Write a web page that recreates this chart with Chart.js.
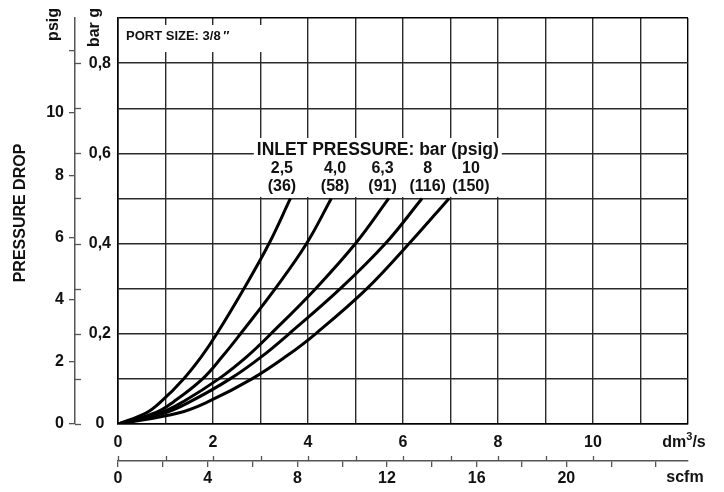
<!DOCTYPE html>
<html>
<head>
<meta charset="utf-8">
<title>Pressure drop - port size 3/8</title>
<script src="https://cdn.jsdelivr.net/npm/chart.js@4.4.1/dist/chart.umd.min.js"></script>
<style>
  html, body { margin: 0; padding: 0; background: #fff; }
  #wrap { width: 724px; height: 492px; position: relative; }
</style>
</head>
<body>
<div id="wrap"><canvas id="chart"></canvas></div>
<script>
/* ---- data ---- */
// pressure drop levels (bar) where the flow of each curve was read
const dropBar = [0, 0.025, 0.05, 0.1, 0.15, 0.2, 0.3, 0.4, 0.5];

// flow in dm3/s for each inlet pressure curve, at the drops above
const flow25 = [0, 0.60, 0.91, 1.38, 1.76, 2.08, 2.65, 3.18, 3.63];
const flow40 = [0, 0.79, 1.18, 1.78, 2.20, 2.58, 3.31, 3.97, 4.49];
const flow63 = [0, 0.90, 1.38, 2.12, 2.72, 3.22, 4.16, 5.00, 5.70];
const flow80 = [0, 1.00, 1.53, 2.36, 3.03, 3.60, 4.68, 5.63, 6.40];
const flow100 = [0, 1.29, 1.91, 2.82, 3.54, 4.16, 5.24, 6.13, 6.97];

const inletBar = ['2,5', '4,0', '6,3', '8', '10'];
const inletPsig = ['(36)', '(58)', '(91)', '(116)', '(150)'];

const BAR_TO_PSI = 14.5038;
const DM3S_TO_SCFM = 2.11888;

const FONT = "'Liberation Sans', Arial, Helvetica, sans-serif";
const GRID = '#2a2a2a';
const AXIS = '#555';

Chart.defaults.font.family = FONT;
Chart.defaults.font.size = 16;
Chart.defaults.font.weight = 'bold';
Chart.defaults.color = '#111';

const flows = [flow25, flow40, flow63, flow80, flow100];

const datasets = flows.map((f, i) => ({
  label: inletBar[i] + ' bar',
  data: f.map((q, k) => ({ x: q, y: dropBar[k] })),
  borderColor: '#000',
  borderWidth: 3,
  pointRadius: 0,
  fill: false,
  tension: 0.4
}));

function line(ctx, x1, y1, x2, y2) {
  ctx.beginPath();
  ctx.moveTo(x1, y1);
  ctx.lineTo(x2, y2);
  ctx.stroke();
}

// extra ticks, titles and the two boxed notes
const annotate = {
  id: 'annotate',
  afterDraw(chart) {
    const { ctx, chartArea: a, scales: { x, y, x2, y2 } } = chart;
    ctx.save();

    // bar ticks on the right side of the psig line
    ctx.strokeStyle = AXIS;
    ctx.lineWidth = 1.3;
    for (let k = 0; k <= 8; k++) {
      const py = Math.round(y.getPixelForValue(k / 10)) + 0.5;
      line(ctx, y2.right, py, y2.right + 6, py);
    }
    // dm3/s ticks pointing up from the scfm line
    for (let k = 0; k <= 10; k++) {
      const px = Math.round(x.getPixelForValue(k)) + 0.5;
      line(ctx, px, x2.top - 5, px, x2.top);
    }

    // white boxes behind the notes
    ctx.fillStyle = '#fff';
    ctx.fillRect(a.left + 2, a.top + 7, 170, 27);
    const cx = x.getPixelForValue(5.47);
    const boxTop = a.top + 120;
    const boxBottom = y.getPixelForValue(0.5) - 1.5;
    ctx.fillRect(cx - 124, boxTop, 248, boxBottom - boxTop);

    ctx.fillStyle = '#111';
    ctx.textBaseline = 'alphabetic';

    ctx.font = 'bold 13px ' + FONT;
    ctx.textAlign = 'left';
    ctx.fillText('PORT SIZE: 3/8\u2009\u2033', a.left + 8, a.top + 22);

    ctx.font = 'bold 17.5px ' + FONT;
    ctx.textAlign = 'center';
    ctx.fillText('INLET PRESSURE: bar (psig)', cx, a.top + 137);

    ctx.font = 'bold 16px ' + FONT;
    const labelAt = [3.45, 4.57, 5.57, 6.52, 7.43];
    labelAt.forEach((v, i) => {
      const px = x.getPixelForValue(v);
      ctx.fillText(inletBar[i], px, a.top + 155);
      ctx.fillText(inletPsig[i], px, a.top + 173);
    });

    // unit labels at the end of the flow axes
    const uy = x.top + 19;
    ctx.textBaseline = 'middle';
    const wDm = ctx.measureText('dm').width;
    const wS = ctx.measureText('/s').width;
    ctx.font = 'bold 11px ' + FONT;
    const w3 = ctx.measureText('3').width;
    const ux = a.right - 4 - (wDm + w3 + wS) / 2;
    ctx.textAlign = 'left';
    ctx.font = 'bold 16px ' + FONT;
    ctx.fillText('dm', ux, uy);
    ctx.font = 'bold 11px ' + FONT;
    ctx.fillText('3', ux + wDm, uy - 6);
    ctx.font = 'bold 16px ' + FONT;
    ctx.fillText('/s', ux + wDm + w3, uy);
    ctx.textAlign = 'center';
    ctx.fillText('scfm', a.right - 3, x2.top + 17);

    // rotated titles
    ctx.textBaseline = 'alphabetic';
    const vtext = (txt, bx, by, align) => {
      ctx.save();
      ctx.translate(bx, by);
      ctx.rotate(-Math.PI / 2);
      ctx.textAlign = align;
      ctx.fillText(txt, 0, 0);
      ctx.restore();
    };
    vtext('psig', y2.right - 17, 8, 'right');
    vtext('bar g', a.left - 19, 8, 'right');
    vtext('PRESSURE DROP', 25, (a.top + a.bottom) / 2 - 8, 'center');

    ctx.restore();
  }
};

new Chart(document.getElementById('chart'), {
  type: 'line',
  data: { datasets },
  plugins: [annotate],
  options: {
    responsive: true,
    maintainAspectRatio: false,
    animation: false,
    layout: { padding: { top: 18, right: 36, left: 0, bottom: 0 } },
    plugins: {
      legend: { display: false },
      tooltip: { enabled: false }
    },
    scales: {
      x: {
        type: 'linear',
        position: 'bottom',
        min: 0,
        max: 12,
        afterFit: (s) => { s.height = 37; },
        ticks: {
          stepSize: 1,
          autoSkip: false,
          maxRotation: 0,
          padding: 9,
          callback: (v) => (v % 2 === 0 && v < 12 ? String(v) : '')
        },
        grid: {
          color: (c) => (c.tick && c.tick.value === 12 ? '#000' : GRID),
          lineWidth: 1.4,
          drawTicks: false
        },
        border: { color: '#000', width: 1.6 }
      },
      x2: {
        type: 'linear',
        axis: 'x',
        position: 'bottom',
        weight: 1,
        min: 0,
        max: 12 * DM3S_TO_SCFM,
        afterFit: (s) => { s.height = 31; },
        ticks: {
          stepSize: 2,
          includeBounds: false,
          autoSkip: false,
          maxRotation: 0,
          padding: 2,
          callback: (v) => (v % 4 === 0 && v <= 20 ? String(v) : '')
        },
        grid: { drawOnChartArea: false, drawTicks: true, tickLength: 6, color: AXIS, lineWidth: 1.3 },
        border: { color: AXIS, width: 1.5 }
      },
      y: {
        type: 'linear',
        position: 'left',
        min: 0,
        max: 0.9,
        afterFit: (s) => { s.width = 43; },
        ticks: {
          stepSize: 0.1,
          autoSkip: false,
          crossAlign: 'center',
          padding: 7,
          callback: (v) => {
            const t = Math.round(v * 10);
            if (t % 2 !== 0 || t > 8) return '';
            return t === 0 ? '0' : (t / 10).toFixed(1).replace('.', ',');
          }
        },
        grid: {
          color: (c) => (c.tick && Math.abs(c.tick.value - 0.9) < 1e-6 ? '#000' : GRID),
          lineWidth: 1.4,
          drawTicks: false
        },
        border: { color: '#000', width: 1.6 }
      },
      y2: {
        type: 'linear',
        axis: 'y',
        position: 'left',
        weight: 1,
        min: 0,
        max: 0.9 * BAR_TO_PSI,
        afterFit: (s) => { s.width = 75; },
        ticks: {
          stepSize: 2,
          includeBounds: false,
          autoSkip: false,
          padding: 5,
          callback: (v) => (v <= 10 ? String(v) : '')
        },
        grid: { drawOnChartArea: false, drawTicks: true, tickLength: 6, color: AXIS, lineWidth: 1.3 },
        border: { color: AXIS, width: 1.5 }
      }
    }
  }
});
</script>
</body>
</html>
